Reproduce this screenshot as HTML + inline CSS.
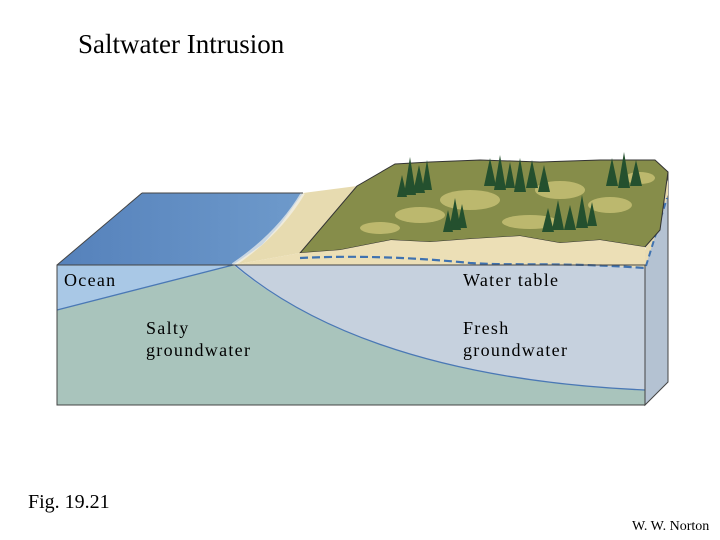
<!DOCTYPE html>
<html><head><meta charset="utf-8"><style>
body{margin:0;width:720px;height:540px;background:#fff;overflow:hidden;position:relative;font-family:"Liberation Serif",serif}
.t{position:absolute;white-space:nowrap;color:#000}
</style></head><body>
<svg width="720" height="540" style="position:absolute;left:0;top:0">
<defs>
<linearGradient id="oc" x1="0" y1="0" x2="1" y2="0"><stop offset="0" stop-color="#5581bb"/><stop offset="1" stop-color="#6e9acb"/></linearGradient>
</defs>
<polygon points="645,265 668,172 668,382 645,405" fill="#b4c2d2" stroke="#444" stroke-width="1"/>
<polygon points="645,268 668,195 668,180 645,250" fill="#eadcb2"/>
<line x1="646" y1="266" x2="667" y2="198" stroke="#3f72b0" stroke-width="2" stroke-dasharray="6,4"/>
<polygon points="57,265 142,193 303,193 296,205 280,225 262,245 233,265" fill="url(#oc)"/>
<polygon points="303,193 357,186 300,253 233,265 262,245 280,225" fill="#e7dbb0"/>
<path d="M303,193 C290,215 270,240 233,265" stroke="#f2f2ee" stroke-width="4" fill="none" opacity="0.7"/>
<path d="M357,186 L395,164 L430,162 L480,160 L540,162 L600,160 L655,160 L668,172 L660,230 L645,247 L600,240 L560,243 L520,236 L470,239 L430,242 L391,240 L340,250 L300,253 Z" fill="#868d4a" stroke="#333" stroke-width="1"/>
<g fill="#cfc77a" opacity="0.75">
<ellipse cx="470" cy="200" rx="30" ry="10"/><ellipse cx="560" cy="190" rx="25" ry="9"/><ellipse cx="420" cy="215" rx="25" ry="8"/>
<ellipse cx="610" cy="205" rx="22" ry="8"/><ellipse cx="530" cy="222" rx="28" ry="7"/><ellipse cx="380" cy="228" rx="20" ry="6"/>
<ellipse cx="640" cy="178" rx="15" ry="6"/>
</g>
<path d="M233,265 L300,253 L340,250 L391,240 L430,242 L470,239 L520,236 L560,243 L600,240 L645,247 L645,268 Z" fill="#ecdfb6"/>
<rect x="57" y="265" width="588" height="140" fill="#c6d1de"/>
<path d="M240,265 L300,258 C360,255 420,258 470,263 C520,266 560,262 645,268 L645,265 Z" fill="#ecdfb6"/>
<polygon points="57,265 233,265 57,310" fill="#a9c8e6"/>
<path d="M57,310 L233,265 C300,320 420,380 645,390 L645,405 L57,405 Z" fill="#a9c4bc"/>
<path d="M57,310 L233,265" stroke="#4a78b5" stroke-width="1.3" fill="none"/>
<path d="M235,265 C300,320 420,380 645,390" stroke="#4a78b5" stroke-width="1.3" fill="none"/>
<path d="M300,258 C360,255 420,258 470,263 C520,266 560,262 645,268" stroke="#3f72b0" stroke-width="2.2" stroke-dasharray="8,4" fill="none"/>
<rect x="57" y="265" width="588" height="140" fill="none" stroke="#444" stroke-width="1"/>
<line x1="57" y1="265" x2="142" y2="193" stroke="#444"/>
<line x1="142" y1="193" x2="303" y2="193" stroke="#444"/>
<g fill="#24502e">
<polygon points="410,157 404,195 416,195"/><polygon points="419,165 413,193 425,193"/><polygon points="402,175 397,197 407,197"/><polygon points="427,160 422,190 432,190"/>
<polygon points="490,158 484,186 496,186"/><polygon points="500,155 494,190 506,190"/><polygon points="510,162 505,188 515,188"/><polygon points="520,158 514,192 526,192"/><polygon points="532,160 526,188 538,188"/><polygon points="544,165 538,192 550,192"/>
<polygon points="455,198 449,230 461,230"/><polygon points="462,204 457,228 467,228"/><polygon points="448,210 443,232 453,232"/>
<polygon points="548,208 542,232 554,232"/><polygon points="558,200 552,230 564,230"/><polygon points="570,205 564,230 576,230"/><polygon points="582,195 576,228 588,228"/><polygon points="592,202 587,226 597,226"/>
<polygon points="612,158 606,186 618,186"/><polygon points="624,152 618,188 630,188"/><polygon points="636,160 630,186 642,186"/>
</g>
</svg>
<div class="t" style="left:78px;top:29px;font-size:27px">Saltwater Intrusion</div>
<div class="t" style="left:64px;top:270px;font-size:18px;letter-spacing:1.3px">Ocean</div>
<div class="t" style="left:463px;top:270px;font-size:18px;letter-spacing:1.3px">Water table</div>
<div class="t" style="left:146px;top:317px;font-size:18px;letter-spacing:1.3px;line-height:22px">Salty<br>groundwater</div>
<div class="t" style="left:463px;top:317px;font-size:18px;letter-spacing:1.3px;line-height:22px">Fresh<br>groundwater</div>
<div class="t" style="left:28px;top:491px;font-size:20px">Fig. 19.21</div>
<div class="t" style="left:632px;top:519px;font-size:14px">W. W. Norton</div>
</body></html>
